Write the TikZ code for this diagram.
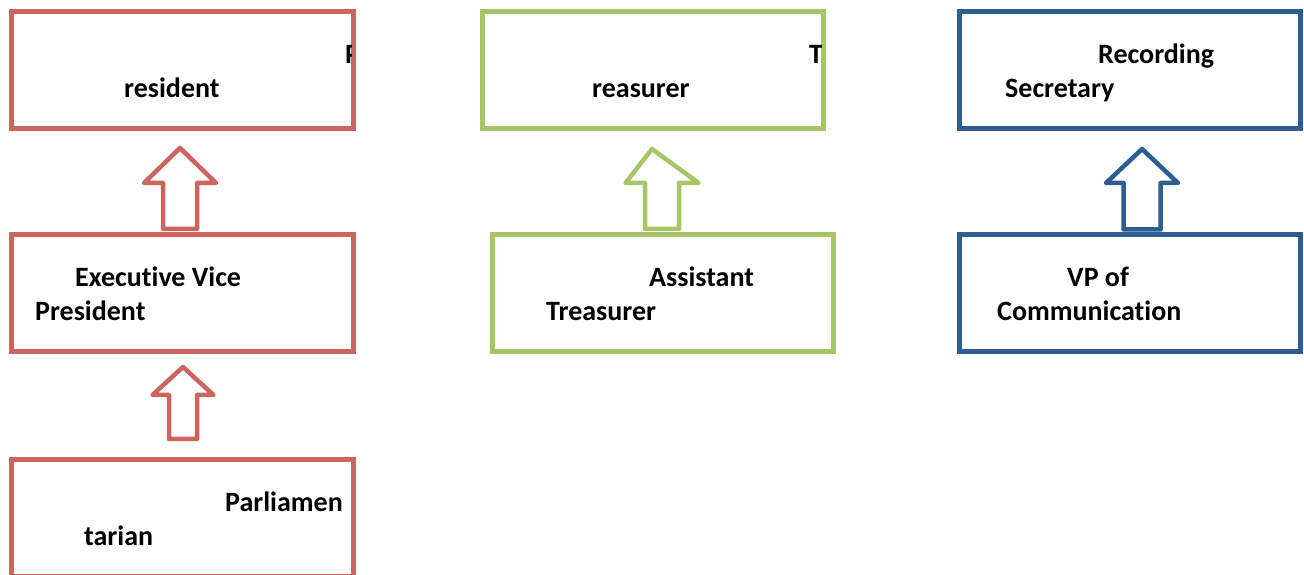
\documentclass[tikz,border=0pt]{standalone}
\usepackage{fontspec}
\setmainfont[Ligatures=CommonOff]{Carlito}
\usetikzlibrary{calc}
\definecolor{redc}{RGB}{206,100,94}
\definecolor{greenc}{RGB}{167,196,103}
\definecolor{bluec}{RGB}{44,94,146}
\newcommand\blockarrow[6]{%
  \draw[#1] let \p1=(#2), \p2=(#3) in
    (\x1-#4pt,\y1) -- (\x1-#4pt,\y2-#6pt) -- (\x1-#5pt,\y2-#6pt) -- (\x2,\y2)
    -- (\x1+#5pt,\y2-#6pt) -- (\x1+#4pt,\y2-#6pt) -- (\x1+#4pt,\y1) -- cycle;}
\begin{document}
\begin{tikzpicture}[x=1pt,y=1pt,
  box/.style={draw, rectangle, line width=5pt, outer sep=0pt, inner sep=0pt,
    minimum width=342pt, minimum height=117pt, fill=white},
  arr/.style={line width=4.5pt, line join=round, fill=white},
  txt/.style={inner sep=0pt, anchor=base west, font=\fontsize{28}{34}\selectfont\bfseries}]
\useasboundingbox (0,0) rectangle (1304,575);
% boxes
\node[box, draw=redc] (pres) at (182.5,504.5) {};
\node[box, draw=greenc, minimum width=341pt] (treas) at (653,504.5) {};
\node[box, draw=bluec, minimum width=341pt] (recsec) at (1130,504.5) {};
\node[box, draw=redc] (evp) at (182.5,281.5) {};
\node[box, draw=greenc, minimum width=341pt] (asst) at (663,281.5) {};
\node[box, draw=bluec, minimum width=341pt] (vpc) at (1130,282) {};
\node[box, draw=redc] (parl) at (182.5,56.5) {};
% arrow end points
\coordinate (a1b) at ([xshift=-2.5pt,yshift=6pt]evp.north);
\coordinate (a1t) at ([xshift=-2.5pt,yshift=-19pt]pres.south);
\coordinate (a2b) at ([xshift=0.5pt,yshift=21pt]parl.north);
\coordinate (a2t) at ([xshift=0.5pt,yshift=-15pt]evp.south);
\coordinate (a3b) at ([xshift=-1pt,yshift=6pt]asst.north);
\coordinate (a3t) at ([xshift=-1pt,yshift=-20pt]treas.south);
\coordinate (a4b) at ([xshift=12pt,yshift=5pt]vpc.north);
\coordinate (a4t) at ([xshift=12pt,yshift=-20pt]recsec.south);
\blockarrow{arr, draw=redc}{a1b}{a1t}{17}{36}{35}
\blockarrow{arr, draw=redc}{a2b}{a2t}{14}{30.5}{28}
\blockarrow{arr, draw=greenc}{a3b}{a3t}{17}{36.5}{34}
\blockarrow{arr, draw=bluec}{a4b}{a4t}{18.5}{36}{34}
% texts
\begin{scope}
  \clip ([shift={(2.5pt,2.5pt)}]pres.south west) rectangle ([shift={(-2.5pt,-2.5pt)}]pres.north east);
  \node[txt] (t1a) at (345,511) {P};
\end{scope}
\node[txt] (t1b) at (124,477) {resident};
\begin{scope}
  \clip ([shift={(2.5pt,2.5pt)}]treas.south west) rectangle ([shift={(-2.5pt,-2.5pt)}]treas.north east);
  \node[txt] (t2a) at (809,511) {T};
\end{scope}
\node[txt] (t2b) at (592,477) {reasurer};
\node[txt] (t3a) at (1098,511) {Recording};
\node[txt] (t3b) at (1005,477) {Secretary};
\node[txt] (t4a) at (75,288) {Executive Vice};
\node[txt] (t4b) at (35,254) {President};
\node[txt] (t5a) at (649,288) {Assistant};
\node[txt] (t5b) at (546,254) {Treasurer};
\node[txt] (t6a) at (1067,288) {VP of};
\node[txt] (t6b) at (997,254) {Communication};
\node[txt] (t7a) at (225,63) {Parliamen};
\node[txt] (t7b) at (84,29) {tarian};
\end{tikzpicture}
\end{document}
